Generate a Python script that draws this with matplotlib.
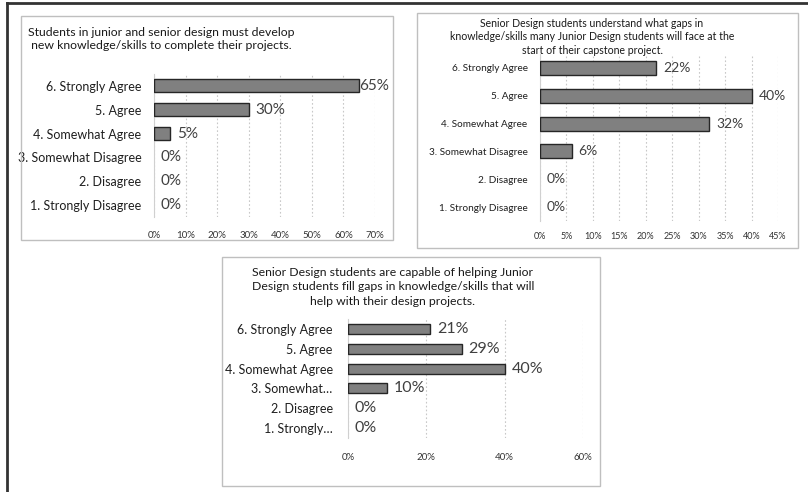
import numpy as np
import matplotlib.pyplot as plt
from matplotlib.patches import Rectangle
from matplotlib.lines import Line2D

plt.rcParams['font.family'] = ['Lato', 'DejaVu Sans']

W, H = 808, 492

cats = ["6. Strongly Agree", "5. Agree", "4. Somewhat Agree",
        "3. Somewhat Disagree", "2. Disagree", "1. Strongly Disagree"]
cats3 = ["6. Strongly Agree", "5. Agree", "4. Somewhat Agree",
         "3. Somewhat\u2026", "2. Disagree", "1. Strongly\u2026"]
vals1 = [65, 30, 5, 0, 0, 0]
vals2 = [22, 40, 32, 6, 0, 0]
vals3 = [21, 29, 40, 10, 0, 0]
ticks1 = [0, 10, 20, 30, 40, 50, 60, 70]
ticks2 = [0, 5, 10, 15, 20, 25, 30, 35, 40, 45]
ticks3 = [0, 20, 40, 60]

title1 = "Students in junior and senior design must develop\n new knowledge/skills to complete their projects."
title2 = ("Senior Design students understand what gaps in\n"
          "knowledge/skills many Junior Design students will face at the\n"
          "start of their capstone project.")
title3 = ("Senior Design students are capable of helping Junior\n"
          "Design students fill gaps in knowledge/skills that will\n"
          "help with their design projects.")


def fr(x, y, w, h):
    return [x / W, 1 - (y + h) / H, w / W, h / H]


def panel(fig, box, labels, vals, ticks, catfs, valfs, tickfs, barh, ypad, lpad):
    ax = fig.add_axes(fr(*box))
    y = np.arange(len(labels))
    edges = ["#262626" if v > 0 else "none" for v in vals]
    ax.barh(y, vals, height=barh, color="#808080", edgecolor=edges, linewidth=1.0, zorder=3)
    ax.set_xlim(0, ticks[-1])
    ax.set_ylim(len(labels) - 0.5, -0.5)
    ax.set_yticks(y)
    ax.set_yticklabels(labels, fontsize=catfs, color="#1f1f1f")
    ax.set_xticks(ticks)
    ax.set_xticklabels([f"{t}%" for t in ticks], fontsize=tickfs, color="#333333")
    ax.tick_params(length=0)
    ax.tick_params(axis="y", pad=lpad)
    ax.tick_params(axis="x", pad=ypad)
    ax.grid(axis="x", linestyle=(0, (1.5, 2)), color="#c8c8c8", linewidth=0.8, zorder=0)
    for s in ["top", "right", "bottom"]:
        ax.spines[s].set_visible(False)
    ax.spines["left"].set_color("#d0d0d0")
    ax.spines["left"].set_linewidth(0.8)
    ax.patch.set_alpha(0)
    for yi, v in zip(y, vals):
        off = 5 if v < ticks[-1] * 0.9 else 0
        ax.annotate(f"{v}%", (v, yi), xytext=(off, 0), textcoords="offset points",
                    va="center", ha="left", fontsize=valfs, color="#404040",
                    annotation_clip=False, zorder=4)
    return ax


fig = plt.figure(figsize=(W / 100, H / 100), dpi=100)

# outer frame lines (left and top)
fig.add_artist(Line2D([7 / W, 7 / W], [0, 1 - 3 / H], color="#333333", linewidth=2))
fig.add_artist(Line2D([7 / W, 1], [1 - 3 / H, 1 - 3 / H], color="#333333", linewidth=2))

# panel boxes
for bx in [(21, 16, 372, 224), (417, 13, 381, 235), (222, 257, 378, 229)]:
    fig.add_artist(Rectangle((bx[0] / W, 1 - (bx[1] + bx[3]) / H), bx[2] / W, bx[3] / H,
                             transform=fig.transFigure, fill=False,
                             edgecolor="#bfbfbf", linewidth=1))

panel(fig, (154, 74, 221, 143), cats, vals1, ticks1, 9, 11, 7, 0.55, 10, 9)
panel(fig, (540, 54, 238, 167), cats, vals2, ticks2, 7.2, 10, 6.5, 0.5, 8, 9)
panel(fig, (348, 319, 235, 119), cats3, vals3, ticks3, 9, 11.5, 7, 0.5, 11, 11)

fig.text(28 / W, 1 - 39 / H, title1, ha="left", va="center", fontsize=8.8,
         color="#1a1a1a", linespacing=1.3)
fig.text(592 / W, 1 - 37 / H, title2, ha="center", va="center", fontsize=7.6,
         color="#1a1a1a", linespacing=1.25)
fig.text(393 / W, 1 - 287 / H, title3, ha="center", va="center", fontsize=8.8,
         color="#1a1a1a", linespacing=1.35)

fig.savefig("out.png", dpi=100)
